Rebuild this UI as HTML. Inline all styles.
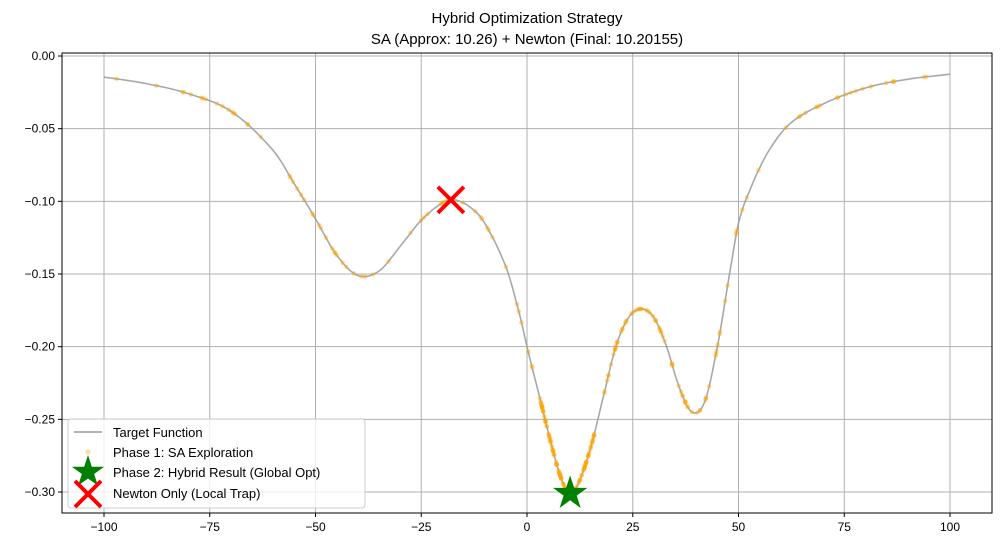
<!DOCTYPE html>
<html><head><meta charset="utf-8"><style>
body{margin:0;background:#fff}
svg{font-family:"Liberation Sans","DejaVu Sans",sans-serif}
</style></head><body>
<svg id="s" width="1002" height="548" xmlns="http://www.w3.org/2000/svg">
<rect width="1002" height="548" fill="#fff"/>
<g id="grid" stroke="#b0b0b0" stroke-width="1"></g>
<path id="curve" fill="none" stroke="#999" stroke-opacity="0.85" stroke-width="1.6"/>
<g id="dots" fill="orange" fill-opacity="0.4"></g>
<rect x="62" y="53" width="930" height="460" fill="none" stroke="#000" stroke-width="1"/>
<g id="ticks" font-size="12" fill="#000"></g>
<text x="527" y="23" font-size="15" text-anchor="middle">Hybrid Optimization Strategy</text>
<text x="527" y="44" font-size="15" text-anchor="middle">SA (Approx: 10.26) + Newton (Final: 10.20155)</text>
<g id="marks"></g>
<g font-size="13">
<rect x="68" y="419" width="297" height="89" rx="3" fill="#fff" fill-opacity="0.8" stroke="#ccc"/>
<line x1="74" y1="432" x2="102" y2="432" stroke="#999" stroke-width="1.6"/>
<text x="113" y="437">Target Function</text>
<circle cx="88" cy="452" r="2.5" fill="orange" fill-opacity="0.4"/>
<text x="113" y="457">Phase 1: SA Exploration</text>
<text x="113" y="477">Phase 2: Hybrid Result (Global Opt)</text>
<text x="113" y="498">Newton Only (Local Trap)</text>
</g>
<g id="lmarks"></g>
</svg>
<script>
const px=x=>527+4.23*x, py=y=>56-y*1453.4;
const P=[[-100,-0.0145],[-90,-0.019],[-80,-0.026],[-70,-0.038],[-60,-0.065],[-55,-0.088],[-50,-0.112],[-45,-0.137],[-40,-0.151],[-35,-0.148],[-30,-0.131],[-25,-0.113],[-20,-0.101],[-17,-0.099],[-13,-0.105],[-10,-0.115],[-5,-0.145],[-2,-0.175],[0,-0.2],[3,-0.235],[6,-0.27],[8,-0.29],[10,-0.301],[12,-0.295],[15,-0.27],[18,-0.235],[21,-0.2],[24,-0.18],[27,-0.174],[30,-0.18],[33,-0.2],[36,-0.228],[39,-0.245],[42,-0.238],[45,-0.2],[48,-0.148],[50,-0.115],[53,-0.09],[57,-0.066],[62,-0.047],[70,-0.033],[80,-0.022],[90,-0.016],[100,-0.0125]];
function f(x){let i=0;while(i<P.length-2&&P[i+1][0]<x)i++;
const p0=P[Math.max(i-1,0)],p1=P[i],p2=P[i+1],p3=P[Math.min(i+2,P.length-1)];
const t=(x-p1[0])/(p2[0]-p1[0]);const h=p2[0]-p1[0];
const m1=(p2[1]-p0[1])/(p2[0]-p0[0])*h, m2=(p3[1]-p1[1])/(p3[0]-p1[0])*h;
const t2=t*t,t3=t2*t;return (2*t3-3*t2+1)*p1[1]+(t3-2*t2+t)*m1+(-2*t3+3*t2)*p2[1]+(t3-t2)*m2;}
let d="";for(let x=-100;x<=100;x+=0.5)d+=(d?"L":"M")+px(x).toFixed(1)+","+py(f(x)).toFixed(1);
document.getElementById("curve").setAttribute("d",d);
const ns="http://www.w3.org/2000/svg";
function el(t,a,p){const e=document.createElementNS(ns,t);for(const k in a)e.setAttribute(k,a[k]);document.getElementById(p).appendChild(e);return e;}
let seed=3;const r=()=>{seed=(seed*16807)%2147483647;return seed/2147483647;};
for(let i=0;i<300;i++){let x;const u=r();
if(u<0.4)x=3+r()*13;else if(u<0.6)x=18+r()*28;else x=-98+r()*193;
el("circle",{cx:px(x),cy:py(f(x)),r:2.3},"dots");}
for(let v=-100;v<=100;v+=25){const X=px(v);el("line",{x1:X,y1:53,x2:X,y2:513},"grid");
el("line",{x1:X,y1:513,x2:X,y2:517,stroke:"#000"},"ticks");
const t=el("text",{x:X,y:531,"text-anchor":"middle"},"ticks");t.textContent=(v<0?"\u2212":"")+Math.abs(v);}
for(let k=0;k<=6;k++){const v=-k*0.05,Y=py(v);el("line",{x1:62,y1:Y,x2:992,y2:Y},"grid");
el("line",{x1:58,y1:Y,x2:62,y2:Y,stroke:"#000"},"ticks");
const t=el("text",{x:55,y:Y+4,"text-anchor":"end"},"ticks");t.textContent=(k?"\u2212":"")+(k*0.05).toFixed(2);}
function star(cx,cy,R,p){let s="";for(let i=0;i<10;i++){const a=-Math.PI/2+i*Math.PI/5,rr=i%2?R*0.38:R;s+=(cx+rr*Math.cos(a)).toFixed(1)+","+(cy+rr*Math.sin(a)).toFixed(1)+" ";}
el("polygon",{points:s,fill:"green"},p);}
function cross(cx,cy,h,p){el("path",{d:`M${cx-h},${cy-h}L${cx+h},${cy+h}M${cx-h},${cy+h}L${cx+h},${cy-h}`,stroke:"red","stroke-width":4,fill:"none"},p);}
star(px(10.2),py(-0.301),18,"marks");cross(px(-18),py(-0.099),13,"marks");
star(88,472,17,"lmarks");cross(88,494,13,"lmarks");
</script>
</body></html>
